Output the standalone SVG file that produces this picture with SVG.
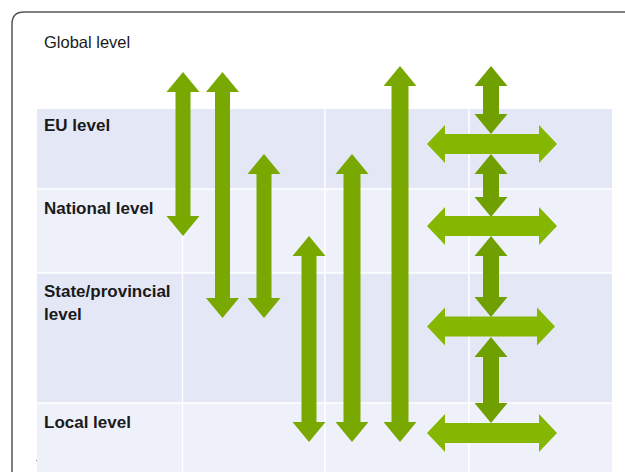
<svg xmlns="http://www.w3.org/2000/svg" width="625" height="472" viewBox="0 0 625 472">
<style>
.lbl{font-family:"Liberation Sans",Arial,sans-serif;font-size:17px;font-weight:bold;fill:#1a1a1a}
.glb{font-family:"Liberation Sans",Arial,sans-serif;font-size:16.5px;fill:#1a1a1a}
.bandA{fill:#e3e7f6}
.bandB{fill:#eff1fa}
.grid{stroke:#ffffff;stroke-width:1.5;fill:none}
.va{fill:#79a900}
.vc{fill:#70a000}
.ha{fill:#86b700}
</style>
<rect width="625" height="472" fill="#ffffff"/>
<path d="M12,473 L12,24 Q12,12 24,12 L626,12" fill="none" stroke="#555555" stroke-width="1.5"/>
<rect x="36" y="460" width="1.2" height="1.2" fill="#999999"/>
<g id="global">
<text class="glb" x="44" y="48">Global level</text>
</g>
<g id="eu">
<rect class="bandA" x="37" y="109" width="575" height="80"/>
<text class="lbl" x="44" y="131">EU level</text>
</g>
<g id="national">
<rect class="bandB" x="37" y="189" width="575" height="84"/>
<text class="lbl" x="44" y="214">National level</text>
</g>
<g id="state">
<rect class="bandA" x="37" y="273" width="575" height="130"/>
<text class="lbl" x="44" y="297">State/provincial</text>
<text class="lbl" x="44" y="320">level</text>
</g>
<g id="local">
<rect class="bandB" x="37" y="403" width="575" height="70"/>
<text class="lbl" x="44" y="428">Local level</text>
</g>
<g id="gridlines">
<path class="grid" d="M37,189 H612 M37,273 H612 M37,403 H612 M182.5,109 V472 M325,109 V472 M469,109 V472"/>
</g>
<g id="connectors">
<polygon class="va" points="183,72 199.5,92 190.5,92 190.5,216 199.5,216 183,236 166.5,216 175.5,216 175.5,92 166.5,92"/>
<polygon class="va" points="222.5,72 239,92 230,92 230,298 239,298 222.5,318 206,298 215,298 215,92 206,92"/>
<polygon class="va" points="264,154 280.5,174 271.5,174 271.5,298 280.5,298 264,318 247.5,298 256.5,298 256.5,174 247.5,174"/>
<polygon class="va" points="309,236 325.5,256 316.5,256 316.5,422 325.5,422 309,442 292.5,422 301.5,422 301.5,256 292.5,256"/>
<polygon class="va" points="352,154 368.5,174 360.5,174 360.5,422 368.5,422 352,442 335.5,422 343.5,422 343.5,174 335.5,174"/>
<polygon class="va" points="400,66 416.5,86 408.5,86 408.5,422 416.5,422 400,442 383.5,422 391.5,422 391.5,86 383.5,86"/>
<polygon class="ha" points="427,144 445,125 445,134 539,134 539,125 557,144 539,163 539,154 445,154 445,163"/>
<polygon class="ha" points="427,226 445,207 445,216 539,216 539,207 557,226 539,245 539,236 445,236 445,245"/>
<polygon class="ha" points="427,326.5 445,307.5 445,316.5 537,316.5 537,307.5 555,326.5 537,345.5 537,336.5 445,336.5 445,345.5"/>
<polygon class="ha" points="427,433 445,414 445,423 539,423 539,414 557,433 539,452 539,443 445,443 445,452"/>
<polygon class="vc" points="491,66 507.5,86 499,86 499,114 507.5,114 491,134 474.5,114 483,114 483,86 474.5,86"/>
<polygon class="vc" points="491,154 507.5,174 499,174 499,197 507.5,197 491,217 474.5,197 483,197 483,174 474.5,174"/>
<polygon class="vc" points="491,236 507.5,256 499,256 499,297 507.5,297 491,317 474.5,297 483,297 483,256 474.5,256"/>
<polygon class="vc" points="491,337 507.5,357 499,357 499,403 507.5,403 491,423 474.5,403 483,403 483,357 474.5,357"/>
</g>
</svg>
